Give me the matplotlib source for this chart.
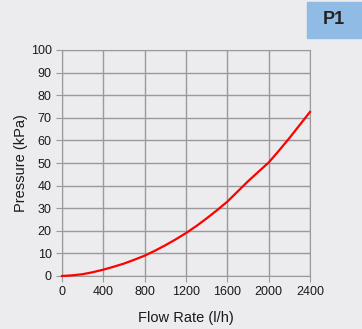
import numpy as np
import matplotlib.pyplot as plt
from matplotlib.patches import Rectangle

plt.rcParams['font.family'] = ['Liberation Sans', 'DejaVu Sans']

flow = [0, 100, 200, 300, 400, 500, 600, 700, 800, 900, 1000, 1100, 1200,
        1300, 1400, 1500, 1600, 1700, 1800, 1900, 2000, 2100, 2200, 2300, 2400]
pressure = [0, 0.3, 0.8, 1.7, 2.8, 4.1, 5.5, 7.2, 9.0, 11.2, 13.6, 16.2, 19.0,
            22.1, 25.5, 29.1, 32.9, 37.4, 41.9, 46.1, 50.2, 55.5, 61.0, 66.8, 72.6]
xticks = [0, 400, 800, 1200, 1600, 2000, 2400]
yticks = [0, 10, 20, 30, 40, 50, 60, 70, 80, 90, 100]

bg = '#ececee'
fig = plt.figure(figsize=(3.62, 3.29), dpi=100, facecolor=bg)
ax = fig.add_axes([62/362, 1-276/329, 248/362, 226/329], facecolor=bg)

ax.plot(flow, pressure, color='#ff0000', lw=1.6, zorder=3, clip_on=False)
ax.set_xlim(0, 2400)
ax.set_ylim(0, 100)
ax.set_xticks(xticks)
ax.set_yticks(yticks)
ax.grid(True, color='#9a9a9a', lw=1)
for s in ax.spines.values():
    s.set_color('#9a9a9a')
ax.tick_params(colors='#9a9a9a', labelcolor='#1a1a1a', labelsize=9, length=4)
ax.set_xlabel('Flow Rate (l/h)', fontsize=10.5, color='#1a1a1a', labelpad=9)
ax.set_ylabel('Pressure (kPa)', fontsize=10.5, color='#1a1a1a', labelpad=2)

fig.patches.append(Rectangle((307/362, 1-38/329), 55/362, 36/329,
                             transform=fig.transFigure, color='#8fbbe4'))
fig.text(334/362, 1-20/329, 'P1', fontsize=13, fontweight='bold',
         color='#222222', ha='center', va='center')

fig.savefig('out.png', dpi=100, facecolor=bg)
